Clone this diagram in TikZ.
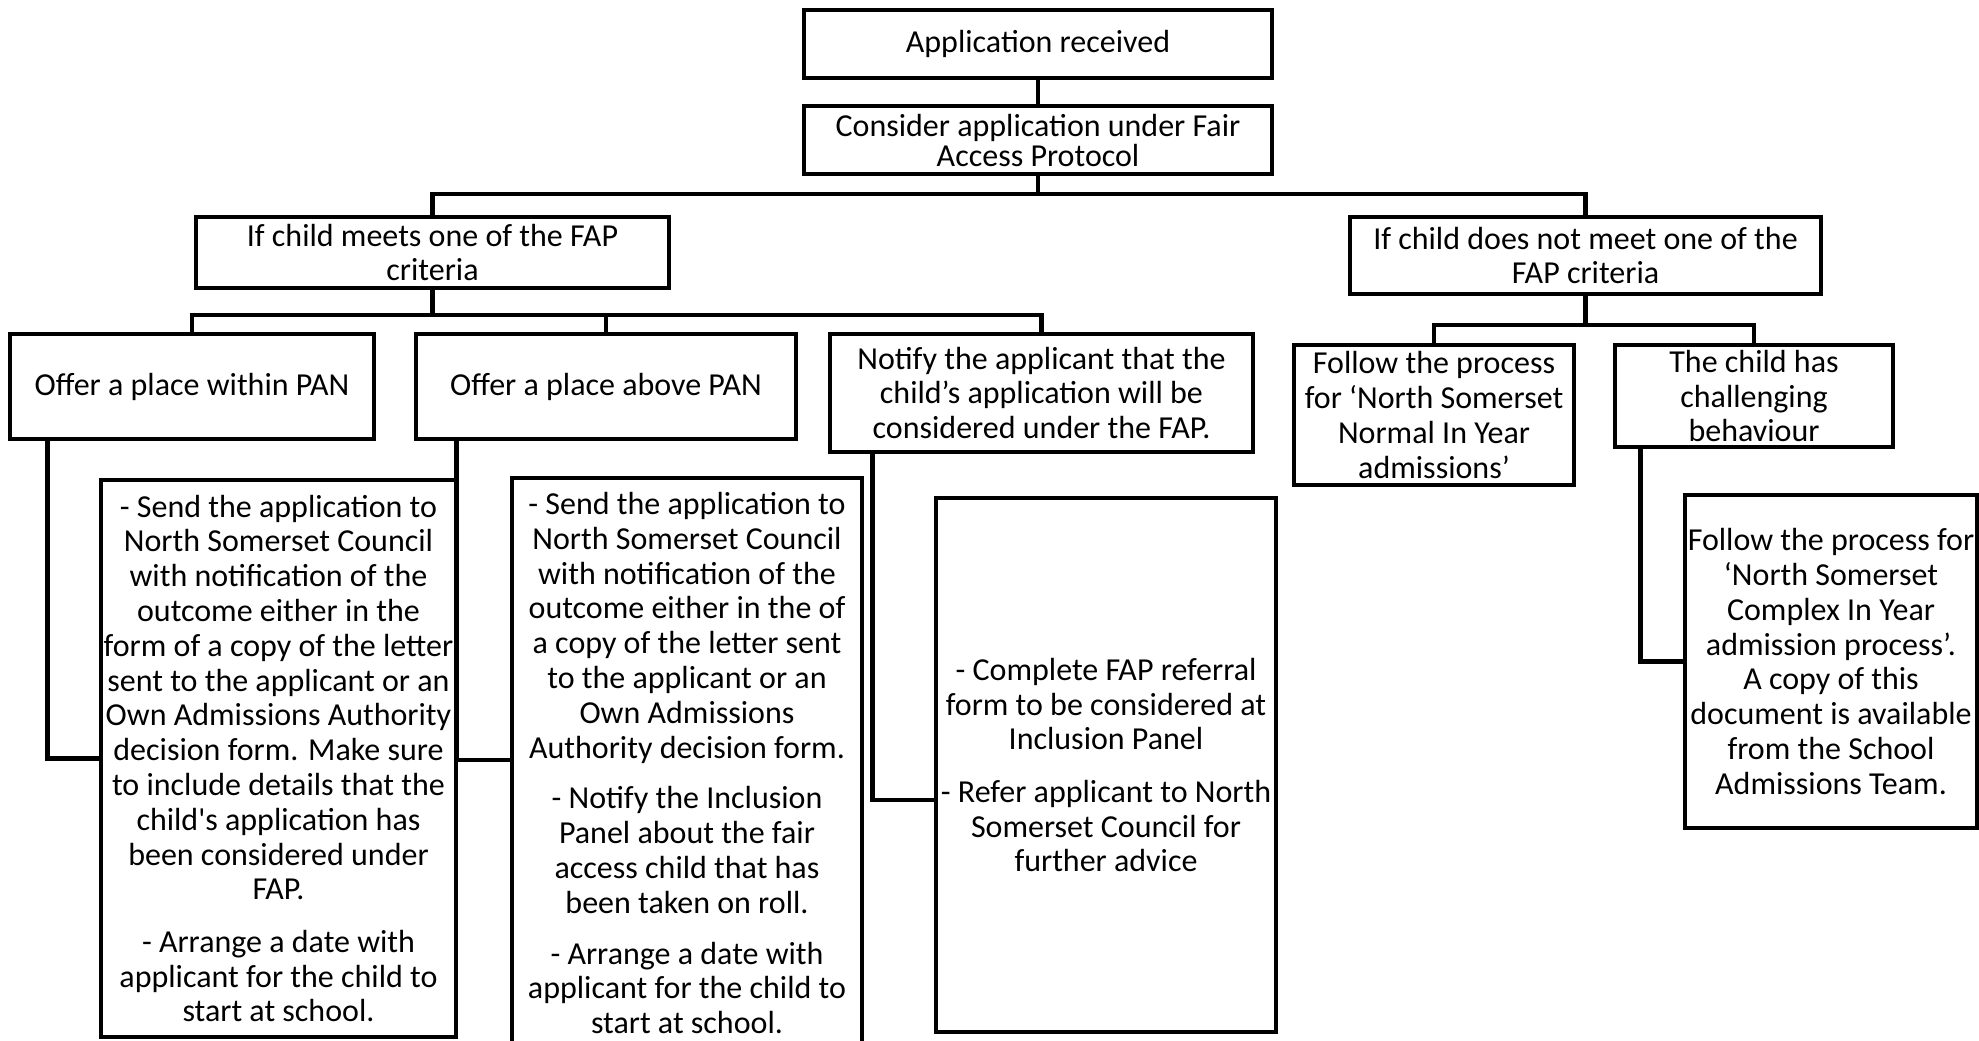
\documentclass[tikz,border=0pt]{standalone}
\usepackage{fontspec}
\setmainfont{Carlito}
\usetikzlibrary{calc}
\begin{document}
\begin{tikzpicture}[x=0.5pt,y=-0.5pt,
  box/.style={draw, line width=2.4pt, inner sep=0pt, align=center, fill=white,
    font=\fontsize{16}{17.4}\selectfont},
  wire/.style={line width=2.4pt}]
\useasboundingbox (0,0) rectangle (1979,1040);
\fill[white] (0,0) rectangle (1979,1040);

% top
\node[box, minimum width=234pt, minimum height=34pt] (A) at (1038,44) {Application received};
\node[box, minimum width=234pt, minimum height=34pt, font=\fontsize{16}{15}\selectfont] (B) at (1038,140)
  {Consider application under Fair\\Access Protocol};
\node[box, minimum width=236.5pt, minimum height=35.5pt] (C) at (432.5,252.5)
  {If child meets one of the FAP\\criteria};
\node[box, minimum width=235.5pt, minimum height=38.5pt] (D) at (1585.5,255.5)
  {If child does not meet one of the\\FAP criteria};

% second level
\node[box, minimum width=182pt, minimum height=52.5pt] (E1) at (192,386.5) {Offer a place within PAN};
\node[box, minimum width=190pt, minimum height=52.5pt] (E2) at (606,386.5) {Offer a place above PAN};
\node[box, minimum width=211.5pt, minimum height=59pt] (E3) at (1041.5,393)
  {Notify the applicant that the\\child’s application will be\\considered under the FAP.};
\node[box, minimum width=140pt, minimum height=70pt] (F1) at (1434,415)
  {Follow the process\\for ‘North Somerset\\Normal In Year\\admissions’};
\node[box, minimum width=139pt, minimum height=51pt] (F2) at (1754,396)
  {The child has\\challenging\\behaviour};

% connectors
\coordinate (bus1) at (1038,194);
\coordinate (bus2) at (432.5,315);
\coordinate (bus3) at (1585.5,325);
\draw[wire] (A.south) -- (B.north);
\draw[wire] (B.south) -- (bus1);
\draw[wire] (C.north) |- (bus1) -| (D.north);
\draw[wire] (C.south) -- (bus2);
\draw[wire] (E1.north) |- (bus2) -| (E3.north);
\draw[wire] (E2.north) -- (E2.north |- bus2);
\draw[wire] (D.south) -- (bus3);
\draw[wire] (F1.north) |- (bus3) -| (F2.north);

% detail boxes
\node[box, minimum width=177.5pt, minimum height=278.5pt] (G1) at (278.5,758.5)
  {- Send the application to\\North Somerset Council\\with notification of the\\outcome either in the\\form of a copy of the letter\\sent to the applicant or an\\Own Admissions Authority\\decision form. Make sure\\to include details that the\\child\textquotesingle s application has\\been considered under\\FAP.\\[8.8pt]
   - Arrange a date with\\applicant for the child to\\start at school.};
\node[box, minimum width=175pt, minimum height=285pt] (G2) at (687,763)
  {- Send the application to\\North Somerset Council\\with notification of the\\outcome either in the of\\a copy of the letter sent\\to the applicant or an\\Own Admissions\\Authority decision form.\\[8pt]
   - Notify the Inclusion\\Panel about the fair\\access child that has\\been taken on roll.\\[8pt]
   - Arrange a date with\\applicant for the child to\\start at school.};
\node[box, minimum width=170pt, minimum height=267pt] (G3) at (1106,765)
  {- Complete FAP referral\\form to be considered at\\Inclusion Panel\\[8.8pt]
   - Refer applicant to North\\Somerset Council for\\further advice};
\node[box, minimum width=146pt, minimum height=166.5pt] (G4) at (1831,661.5)
  {Follow the process for\\‘North Somerset\\Complex In Year\\admission process’.\\A copy of this\\document is available\\from the School\\Admissions Team.};

% elbow connectors
\draw[wire] (E1.south west) ++(40,0) |- (G1.west);
\draw[wire] (E2.south west) ++(43,0) |- ($(G2.west)+(0,-3)$);
\draw[wire] (E3.south west) ++(45,0) |- ($(G3.west)+(0,35)$);
\draw[wire] (F2.south west) ++(28,0) |- (G4.west);
\end{tikzpicture}
\end{document}
